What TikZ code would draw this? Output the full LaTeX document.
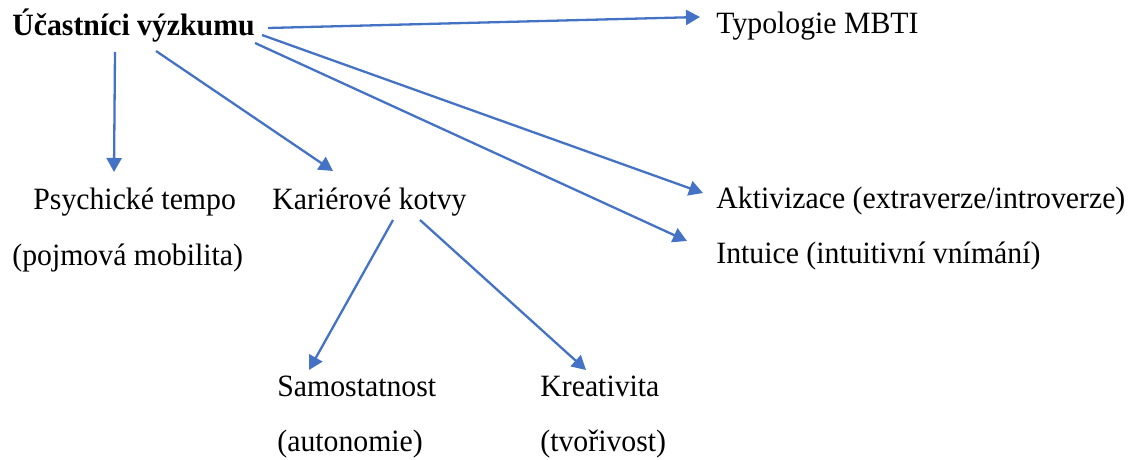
\documentclass[tikz,border=0pt]{standalone}
\usepackage{fontspec}
\setmainfont{Liberation Serif}[FakeStretch=0.96]
\usetikzlibrary{arrows.meta}
\definecolor{arrowblue}{HTML}{4472C4}

\begin{document}
\begin{tikzpicture}[x=0.5pt,y=-0.5pt,
    lbl/.style={anchor=base west,inner sep=0pt,font=\fontsize{15.5}{19}\selectfont},
    conn/.style={draw=arrowblue,line width=1.15pt,-{Triangle[length=7pt,width=7.5pt]}}]
\useasboundingbox (0,0) rectangle (1135,460);
% labels
\node[lbl,font=\fontsize{15.5}{19}\selectfont\bfseries](ucast) at (12,36){Účastníci výzkumu};
\node[lbl](typ) at (716,34){Typologie MBTI};
\node[lbl](psy) at (33,209){Psychické tempo};
\node[lbl](poj) at (12,265){(pojmová mobilita)};
\node[lbl](kar) at (272,209){Kariérové kotvy};
\node[lbl](akt) at (716,208){Aktivizace (extraverze/introverze)};
\node[lbl](intu) at (716,263){Intuice (intuitivní vnímání)};
\node[lbl](sam) at (277,396){Samostatnost};
\node[lbl](auto) at (277,451){(autonomie)};
\node[lbl](kre) at (540,396){Kreativita};
\node[lbl](tvo) at (540,451){(tvořivost)};
% arrows
\draw[conn]([shift={(256,-8)}]ucast.base west)--([shift={(-16,-17)}]typ.base west);
\draw[conn]([shift={(103,16)}]ucast.base west)--([shift={(81,-37)}]psy.base west);
\draw[conn]([shift={(144,15)}]ucast.base west)--([shift={(61,-38)}]kar.base west);
\draw[conn]([shift={(250,-1)}]ucast.base west)--([shift={(-13,-15)}]akt.base west);
\draw[conn]([shift={(243,7)}]ucast.base west)--([shift={(-29,-22)}]intu.base west);
\draw[conn]([shift={(121,11)}]kar.base west)--([shift={(32,-26)}]sam.base west);
\draw[conn]([shift={(148,11)}]kar.base west)--([shift={(46,-26)}]kre.base west);
\end{tikzpicture}
\end{document}
